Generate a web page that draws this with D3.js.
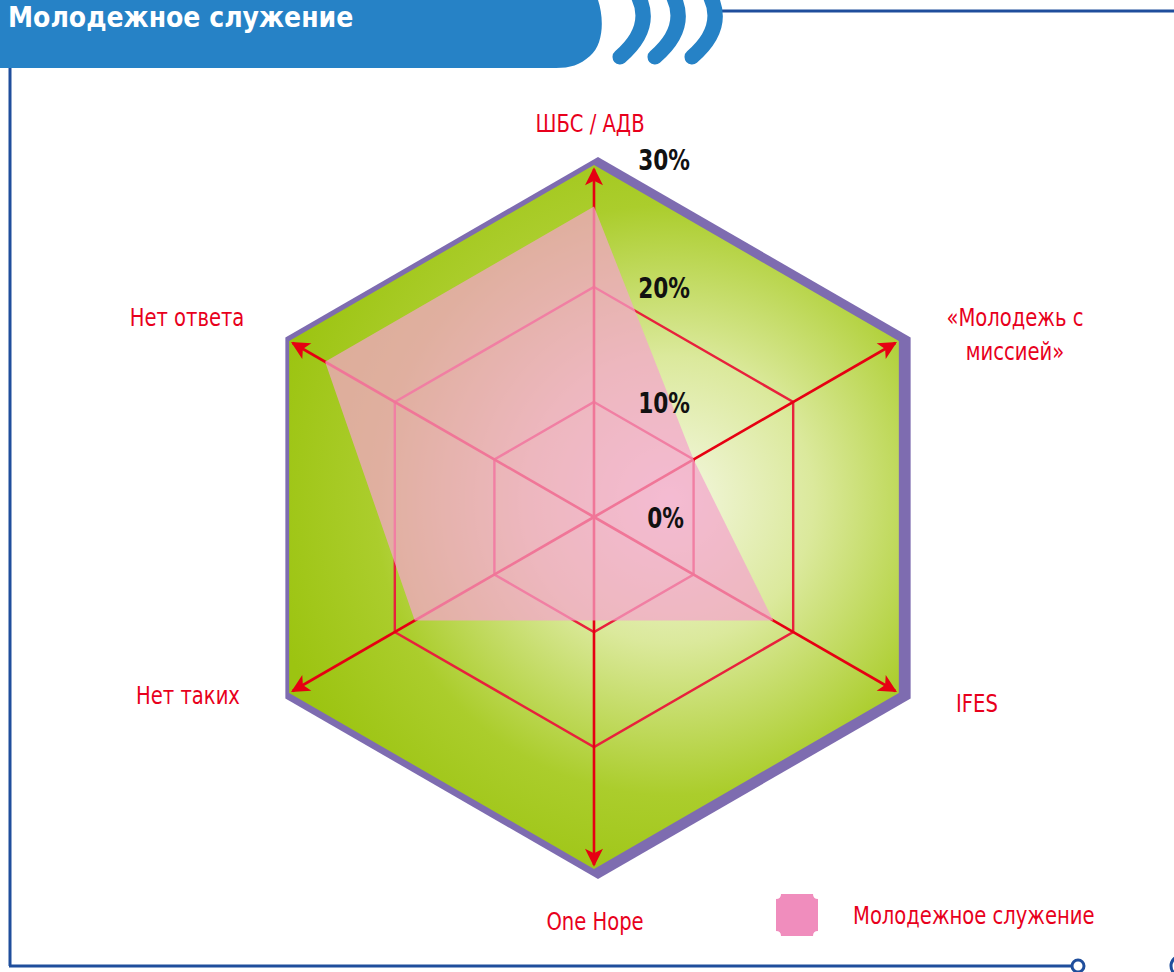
<!DOCTYPE html>
<html>
<head>
<meta charset="utf-8">
<script src="https://cdn.jsdelivr.net/npm/d3@7"></script>
<style>
  html, body { margin: 0; padding: 0; background: #fff; }
  svg { display: block; }
</style>
</head>
<body>
<div id="chart"></div>
<script>
// radar chart - youth ministry

var axesNames = ["ШБС / АДВ", "«Молодежь с миссией»", "IFES", "One Hope", "Нет таких", "Нет ответа"];
var values = [27, 10, 18, 9, 18, 27];
var tickValues = [0, 10, 20, 30];
var seriesName = "Молодежное служение";
var titleText = "Молодежное служение";

var w = 1174, h = 972;
var cx = 594, cy = 517;
var fontFam = "'DejaVu Sans Condensed', 'Liberation Sans Narrow', sans-serif";

var svg = d3.select("#chart").append("svg")
    .attr("width", w)
    .attr("height", h);

var defs = svg.append("defs");

var grad = defs.append("radialGradient")
    .attr("id", "greenGrad")
    .attr("gradientUnits", "userSpaceOnUse")
    .attr("cx", 670).attr("cy", 500).attr("r", 410)
    .attr("fx", 670).attr("fy", 500);
grad.append("stop").attr("offset", "0%").attr("stop-color", "#f4f7e2");
grad.append("stop").attr("offset", "35%").attr("stop-color", "#dbe99c");
grad.append("stop").attr("offset", "72%").attr("stop-color", "#abcd2c");
grad.append("stop").attr("offset", "100%").attr("stop-color", "#9cc411");

defs.append("marker")
    .attr("id", "arrow")
    .attr("viewBox", "0 0 10 10")
    .attr("refX", 9).attr("refY", 5)
    .attr("markerWidth", 8).attr("markerHeight", 7)
    .attr("markerUnits", "strokeWidth")
    .attr("orient", "auto")
    .append("path")
    .attr("d", "M0,0 L10,5 L0,10 L2.5,5 Z")
    .attr("fill", "#e60012");

var blue = "#2682c6";
var frame = "#1f4e9c";

// frame lines
svg.append("line").attr("x1", 10).attr("y1", 60).attr("x2", 10).attr("y2", 966)
    .attr("stroke", frame).attr("stroke-width", 3);
svg.append("line").attr("x1", 9).attr("y1", 966).attr("x2", 1071).attr("y2", 966)
    .attr("stroke", frame).attr("stroke-width", 3);
svg.append("line").attr("x1", 712).attr("y1", 11).attr("x2", 1174).attr("y2", 11)
    .attr("stroke", frame).attr("stroke-width", 3);
svg.append("circle").attr("cx", 1078).attr("cy", 966).attr("r", 6)
    .attr("fill", "#fff").attr("stroke", frame).attr("stroke-width", 3);
svg.append("circle").attr("cx", 1181).attr("cy", 966).attr("r", 10)
    .attr("fill", "#fff").attr("stroke", frame).attr("stroke-width", 3);

// title bar
svg.append("path")
    .attr("d", "M0,0 H598 C604,18 604,44 590,56 C580,65 570,68 556,68 H0 Z")
    .attr("fill", blue);

[636, 671, 708].forEach(function(x0) {
  svg.append("path")
    .attr("d", "M" + x0 + ",-8 Q" + (x0 + 20) + ",26 " + (x0 - 16) + ",57")
    .attr("fill", "none")
    .attr("stroke", blue)
    .attr("stroke-width", 15)
    .attr("stroke-linecap", "round");
});

svg.append("text")
    .attr("x", 8).attr("y", 27)
    .attr("font-family", fontFam)
    .attr("font-weight", "bold")
    .attr("font-size", "28px")
    .attr("fill", "#fff")
    .text(titleText);

// radar
var r = d3.scaleLinear().domain([0, 30]).range([0, 345]);
var angle = d3.scaleLinear().domain([0, axesNames.length]).range([0, 2 * Math.PI]);

function pt(i, rad, ox, oy) {
  var a = angle(i);
  return [(ox || cx) + rad * Math.sin(a), (oy || cy) - rad * Math.cos(a)];
}

function hexPath(rad, ox, oy) {
  return d3.line()(d3.range(6).map(function(i) { return pt(i, rad, ox, oy); })) + "Z";
}

var g = svg.append("g");

// purple backing hexagon + green hexagon
g.append("path").attr("d", hexPath(361, 598, 518)).attr("fill", "#7e6cb0");
g.append("path").attr("d", hexPath(352, cx, cy)).attr("fill", "url(#greenGrad)");

// grid rings (10%, 20%)
g.selectAll(".ring")
    .data(tickValues.filter(function(t) { return t > 0 && t < 30; }))
    .enter().append("path")
    .attr("class", "ring")
    .attr("d", function(d) { return hexPath(r(d), cx, cy); })
    .attr("fill", "none")
    .attr("stroke", "#e8213c")
    .attr("stroke-width", 2.4);

// axes with arrows
g.selectAll(".axis")
    .data(axesNames)
    .enter().append("line")
    .attr("class", "axis")
    .attr("x1", cx).attr("y1", cy)
    .attr("x2", function(d, i) { return pt(i, r(30) + 3)[0]; })
    .attr("y2", function(d, i) { return pt(i, r(30) + 3)[1]; })
    .attr("stroke", "#e60012")
    .attr("stroke-width", 2.6)
    .attr("marker-end", "url(#arrow)");

// series polygon
g.append("path")
    .attr("d", d3.line()(values.map(function(v, i) { return pt(i, r(v)); })) + "Z")
    .attr("fill", "#f4a4cc")
    .attr("fill-opacity", 0.72);

// tick labels
g.selectAll(".tick")
    .data(tickValues)
    .enter().append("text")
    .attr("class", "tick")
    .attr("transform", function(d) {
      var x = d === 0 ? 684 : 690;
      var y = d === 30 ? cy - r(d) - 2 : cy - r(d) + 11;
      return "translate(" + x + "," + y + ") scale(0.86,1)";
    })
    .attr("text-anchor", "end")
    .attr("font-family", fontFam)
    .attr("font-weight", "bold")
    .attr("font-size", "28px")
    .attr("fill", "#111")
    .text(function(d) { return d + "%"; });

// axis labels
var labelPos = [
  {x: 590, y: 132, lines: 1},
  {x: 1015, y: 326, lines: 2},
  {x: 977, y: 712, lines: 1},
  {x: 595, y: 930, lines: 1},
  {x: 188, y: 704, lines: 1},
  {x: 187, y: 326, lines: 1}
];

var labels = g.selectAll(".lbl")
    .data(axesNames)
    .enter().append("text")
    .attr("class", "lbl")
    .attr("transform", function(d, i) {
      return "translate(" + labelPos[i].x + "," + labelPos[i].y + ") scale(0.87,1)";
    })
    .attr("text-anchor", "middle")
    .attr("font-family", fontFam)
    .attr("font-size", "25px")
    .attr("fill", "#e8001c");

labels.each(function(d, i) {
  var t = d3.select(this);
  if (labelPos[i].lines === 2) {
    var parts = ["«Молодежь с", "миссией»"];
    parts.forEach(function(p, k) {
      t.append("tspan").attr("x", 0).attr("dy", k === 0 ? 0 : 34).text(p);
    });
  } else {
    t.text(d);
  }
});

// legend
var leg = svg.append("g").attr("transform", "translate(776,894)");
leg.append("path")
    .attr("d", "M5,0 H37 Q37,5 42,5 V37 Q37,37 37,42 H5 Q5,37 0,37 V5 Q5,5 5,0 Z")
    .attr("fill", "#f08dbd");
leg.append("text")
    .attr("transform", "translate(77,30) scale(0.87,1)")
    .attr("font-family", fontFam)
    .attr("font-size", "25px")
    .attr("fill", "#e8001c")
    .text(seriesName);
</script>
</body>
</html>
